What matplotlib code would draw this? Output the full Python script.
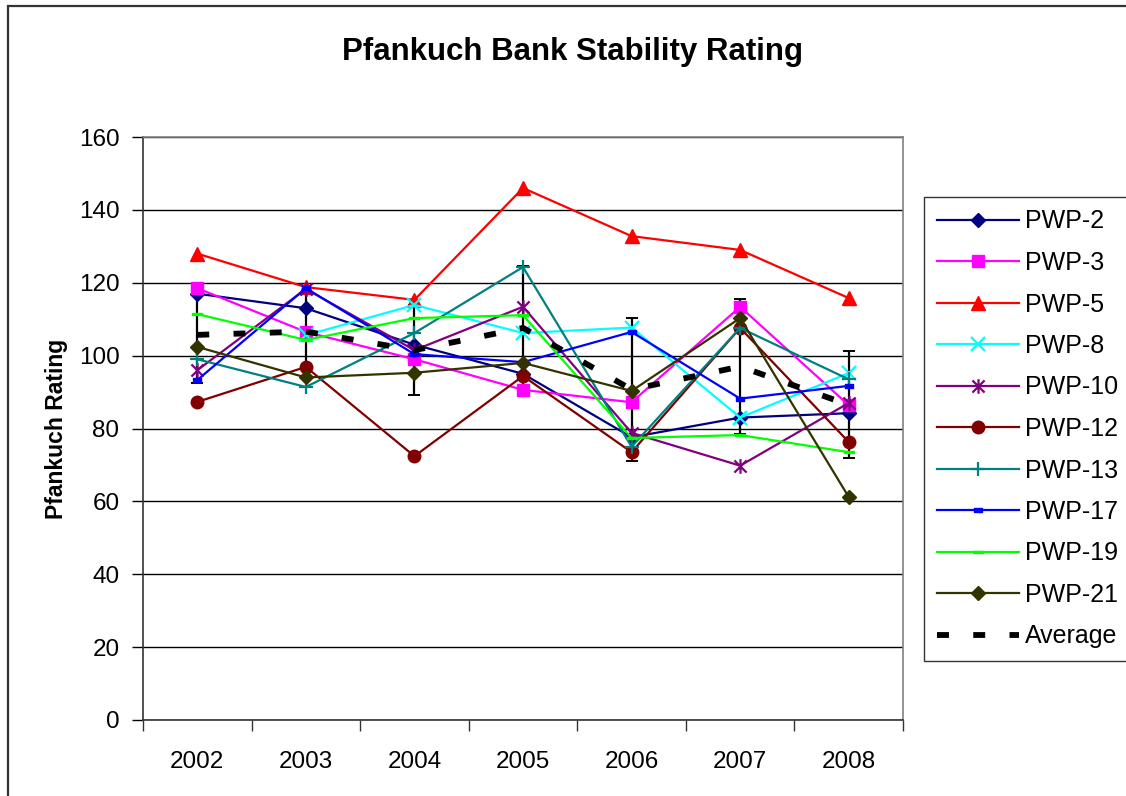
import numpy as np
import matplotlib
matplotlib.use("Agg")
import matplotlib.pyplot as plt
from matplotlib.path import Path
from matplotlib.patches import Rectangle

plt.rcParams['font.family'] = ['Liberation Sans', 'DejaVu Sans']
plt.rcParams['lines.scale_dashes'] = False

years = ["2002", "2003", "2004", "2005", "2006", "2007", "2008"]
pwp2 = [117, 113, 103, 95, 77.6, 83, 84.2]
pwp3 = [118.5, 106.5, 99, 90.6, 87.2, 113.4, 86.4]
pwp5 = [128, 118.8, 115.3, 146, 132.8, 129, 115.8]
pwp8 = [np.nan, 105.6, 113.9, 106.2, 107.7, 83, 95.2]
pwp10 = [96, 118.3, 101.5, 113.4, 78.8, 69.8, 87]
pwp12 = [87.3, 96.9, 72.4, 94.4, 73.5, 107.6, 76.3]
pwp13 = [99, 91.4, 106.2, 124.3, 75, 107.6, 93.5]
pwp17 = [93.3, 118.5, 100.4, 98.2, 106.5, 88.2, 91.7]
pwp19 = [111.4, 104.3, 110.3, 111.1, 77.4, 78.2, 73.5]
pwp21 = [102.4, 94, 95.3, 98, 90.3, 110.3, 61.2]
average = [105.7, 106.6, 101.5, 107.6, 90.7, 97.0, 86.5]
avg_err = [13.3, 10.3, 12.3, 17.0, 19.5, 18.5, 14.7]

asterisk = Path([(-1, -1), (1, 1), (-1, 1), (1, -1), (0, -1.2), (0, 1.2)],
                [Path.MOVETO, Path.LINETO, Path.MOVETO, Path.LINETO, Path.MOVETO, Path.LINETO])
short_bar = Path([(-1, -0.5), (1, -0.5), (1, 0.5), (-1, 0.5), (-1, -0.5)],
                 [Path.MOVETO, Path.LINETO, Path.LINETO, Path.LINETO, Path.CLOSEPOLY])
wide_bar = Path([(-1.5, -0.35), (1.5, -0.35), (1.5, 0.35), (-1.5, 0.35), (-1.5, -0.35)],
                [Path.MOVETO, Path.LINETO, Path.LINETO, Path.LINETO, Path.CLOSEPOLY])

series = [
    ("PWP-2", pwp2, "#000080", "D", 7.5, 1.0),
    ("PWP-3", pwp3, "#FF00FF", "s", 9, 1.0),
    ("PWP-5", pwp5, "#FF0000", "^", 10, 1.0),
    ("PWP-8", pwp8, "#00FFFF", "x", 9.5, 1.6),
    ("PWP-10", pwp10, "#800080", asterisk, 10.5, 1.6),
    ("PWP-12", pwp12, "#800000", "o", 9, 1.0),
    ("PWP-13", pwp13, "#008080", "+", 10.5, 1.6),
    ("PWP-17", pwp17, "#0000FF", short_bar, 6, 1.0),
    ("PWP-19", pwp19, "#00FF00", wide_bar, 7, 1.0),
    ("PWP-21", pwp21, "#333300", "D", 7.5, 1.0),
]

fig = plt.figure(figsize=(11.26, 7.96), dpi=100)
fig.patches.append(Rectangle((8 / 1126, -0.1), 1.2, 1 - 6 / 796 + 0.1, transform=fig.transFigure,
                             fill=False, edgecolor="#333333", linewidth=1.6))
ax = fig.add_axes([143 / 1126, 1 - 720 / 796, 760 / 1126, 583 / 796])

x = np.arange(len(years))
handles = []
for name, vals, col, mk, ms, mew in series:
    ln, = ax.plot(x, vals, color=col, marker=mk, markersize=ms, markeredgewidth=mew,
                  markerfacecolor=col, markeredgecolor=col, linewidth=1.6, label=name, zorder=3)
    handles.append(ln)

ax.errorbar(x, average, yerr=avg_err, fmt='none', ecolor='black', elinewidth=1.6,
            capsize=4.5, capthick=1.4, zorder=2)
avg_ln, = ax.plot(x, average, color='black', linewidth=4.2, dashes=(8.6, 17.5),
                  label="Average", zorder=4)
handles.append(avg_ln)

ax.set_xlim(-0.5, len(years) - 0.5)
ax.set_ylim(0, 160)
ax.set_yticks(np.arange(0, 161, 20))
ax.yaxis.grid(True, color='black', linewidth=1.0)
ax.set_axisbelow(True)
ax.set_xticks(x)
ax.set_xticklabels(years)
ax.set_xticks(np.arange(-0.5, len(years)), minor=True)
ax.tick_params(axis='x', which='major', length=0, pad=22, labelsize=17.5)
ax.tick_params(axis='x', which='minor', length=8, width=1, color='#333333', direction='out')
ax.tick_params(axis='y', which='major', length=8, width=1, direction='out', pad=9, labelsize=17.5)

for s in ['top', 'right']:
    ax.spines[s].set_color('#808080')
    ax.spines[s].set_linewidth(1.2)
for s in ['left', 'bottom']:
    ax.spines[s].set_color('#333333')
    ax.spines[s].set_linewidth(1.2)

ax.set_ylabel("Pfankuch Rating", fontsize=16.5, fontweight='bold', labelpad=8)
fig.text(572 / 1126, 1 - 52 / 796, "Pfankuch Bank Stability Rating", fontsize=22.5,
         fontweight='bold', ha='center', va='center')

leg = fig.legend(handles=handles, loc='upper left', bbox_to_anchor=(924 / 1126, 1 - 197 / 796),
                 borderaxespad=0, frameon=True, fancybox=False, fontsize=18,
                 handlelength=3.3, handletextpad=0.25, labelspacing=0.7, borderpad=0.5)
leg.get_frame().set_edgecolor('black')
leg.get_frame().set_linewidth(1.0)

fig.savefig("out.png", dpi=100)
